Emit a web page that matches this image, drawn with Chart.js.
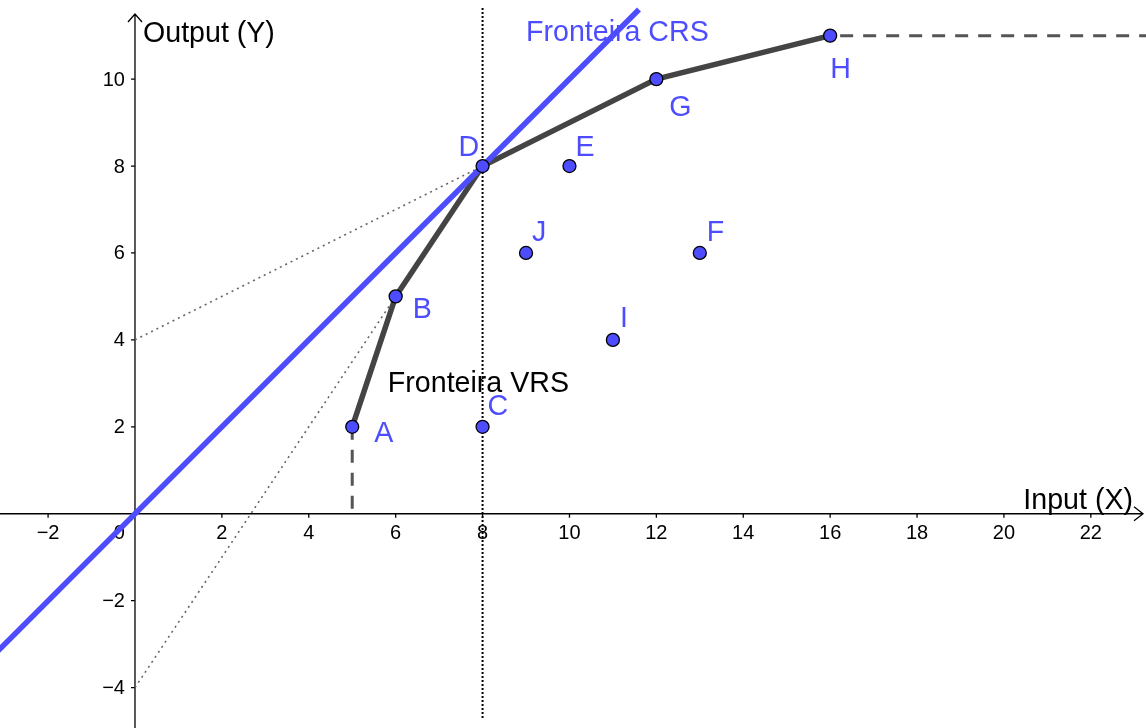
<!DOCTYPE html>
<html><head><meta charset="utf-8">
<script src="https://cdn.jsdelivr.net/npm/chart.js@4.4.1/dist/chart.umd.min.js"></script>
<style>html,body{margin:0;padding:0;background:#fff;overflow:hidden}canvas{display:block}</style>
</head><body>
<canvas id="c" width="1146" height="728"></canvas>
<script>
// ---- data ----
const pointNames = ['A','B','C','D','E','F','G','H','I','J'];
const inputX  = [5, 6, 8, 8, 10, 13, 12, 16, 11, 9];
const outputY = [2, 5, 2, 8, 8, 6, 10, 11, 4, 6];
const vrsNames = ['A','B','D','G','H'];
const crsX = [-3.2, 11.6];
const crsY = [-3.2, 11.6];
const dottedInterceptsY = [4, -4];      // dotted rays from D to the y axis
const xTickValues = [-2,0,2,4,6,8,10,12,14,16,18,20,22];
const yTickValues = [-4,-2,2,4,6,8,10];
const xAxisTitle = 'Input (X)';
const yAxisTitle = 'Output (Y)';
const crsTitle = 'Fronteira CRS';
const vrsTitle = 'Fronteira VRS';

// ---- styling ----
const BLUE = 'rgb(77,77,255)';
const GRAY = 'rgb(68,68,68)';
const FONT = '"Liberation Sans", Arial, sans-serif';
const BIG = '28.6px ';
const labelOffsets = { // px offsets (left, baseline) from point
  A:[22,15], B:[17,22], C:[5,-12], D:[-24,-10], E:[6,-10],
  F:[7,-12], G:[13,37], H:[0,42], I:[7,-13], J:[6,-12]
};

const pt = n => { const i = pointNames.indexOf(n); return {x: inputX[i], y: outputY[i]}; };
const D = pt('D'), A = pt('A'), H = pt('H');

const datasets = [
  { label:'points', data: pointNames.map(pt), showLine:false, order:0,
    pointRadius:6.5, pointHoverRadius:6.5, pointBackgroundColor:BLUE, pointBorderColor:'#000', pointBorderWidth:1.3 },
  { label:'CRS', data: crsX.map((x,i)=>({x, y:crsY[i]})), showLine:true, order:1,
    borderColor:BLUE, borderWidth:5.5, pointRadius:0 },
  { label:'VRS', data: vrsNames.map(pt), showLine:true, order:2,
    borderColor:GRAY, borderWidth:5.5, pointRadius:0 },
  { label:'dashA', data:[A, {x:A.x, y:0}], showLine:true, order:3,
    borderColor:'#555', borderWidth:3, borderDash:[13,10], pointRadius:0 },
  { label:'dashH', data:[H, {x:24, y:H.y}], showLine:true, order:3,
    borderColor:'#555', borderWidth:3, borderDash:[13,10], borderDashOffset:-10, pointRadius:0 },
  ...dottedInterceptsY.map(y0 => ({ label:'dot'+y0, data:[{x:0,y:y0}, D], showLine:true, order:4,
    borderColor:'#666', borderWidth:1.6, borderDash:[2,4], pointRadius:0 })),
  { label:'vline', data:[{x:D.x, y:-4.7},{x:D.x, y:11.65}], showLine:true, order:4,
    borderColor:'#000', borderWidth:2, borderDash:[2,2], pointRadius:0 }
];

const axesPlugin = {
  id:'axes',
  beforeDatasetsDraw(chart){
    const ctx = chart.ctx, xs = chart.scales.x, ys = chart.scales.y;
    const x0 = xs.getPixelForValue(0), y0 = ys.getPixelForValue(0);
    ctx.save();
    ctx.strokeStyle = '#000'; ctx.lineWidth = 1.3;
    ctx.beginPath();
    ctx.moveTo(0, y0); ctx.lineTo(1143, y0);
    ctx.moveTo(1134, y0-7); ctx.lineTo(1143, y0); ctx.lineTo(1134, y0+7);
    ctx.moveTo(x0, 728); ctx.lineTo(x0, 14);
    ctx.moveTo(x0-7, 22); ctx.lineTo(x0, 14); ctx.lineTo(x0+7, 22);
    ctx.stroke();
    ctx.fillStyle = '#000';
    ctx.font = '20px ' + FONT;
    ctx.beginPath();
    xTickValues.forEach(v => {
      const px = xs.getPixelForValue(v);
      if (v !== 0) { ctx.moveTo(px, y0); ctx.lineTo(px, y0+4); }
      const t = v < 0 ? '\u2212' + Math.abs(v) : String(v);
      ctx.textAlign = v === 0 ? 'right' : 'center';
      ctx.textBaseline = 'top';
      ctx.fillText(t, v === 0 ? px - 10 : px, y0 + 10);
    });
    yTickValues.forEach(v => {
      const py = ys.getPixelForValue(v);
      ctx.moveTo(x0-4, py); ctx.lineTo(x0, py);
      const t = v < 0 ? '\u2212' + Math.abs(v) : String(v);
      ctx.textAlign = 'right'; ctx.textBaseline = 'middle';
      ctx.fillText(t, x0 - 10, py + 1);
    });
    ctx.stroke();
    ctx.font = BIG + FONT;
    ctx.textBaseline = 'alphabetic';
    ctx.textAlign = 'left';
    ctx.fillText(yAxisTitle, x0 + 8, 42);
    ctx.textAlign = 'right';
    ctx.fillText(xAxisTitle, 1133, y0 - 5);
    ctx.restore();
  },
  afterDatasetsDraw(chart){
    const ctx = chart.ctx, xs = chart.scales.x, ys = chart.scales.y;
    ctx.save();
    ctx.font = BIG + FONT;
    ctx.textAlign = 'left'; ctx.textBaseline = 'alphabetic';
    ctx.fillStyle = BLUE;
    pointNames.forEach(n => {
      const p = pt(n), o = labelOffsets[n];
      ctx.fillText(n, xs.getPixelForValue(p.x) + o[0], ys.getPixelForValue(p.y) + o[1]);
    });
    ctx.fillText(crsTitle, xs.getPixelForValue(9.0), ys.getPixelForValue(10.87));
    ctx.fillStyle = '#000';
    ctx.fillText(vrsTitle, xs.getPixelForValue(5.82), ys.getPixelForValue(2.81));
    ctx.restore();
  }
};

new Chart(document.getElementById('c'), {
  type:'scatter',
  data:{ datasets },
  options:{
    responsive:false, animation:false, devicePixelRatio:1,
    layout:{ padding:0, autoPadding:false },
    plugins:{ legend:{display:false}, tooltip:{enabled:false} },
    scales:{
      x:{ type:'linear', min:-3.107, max:23.27, display:false },
      y:{ type:'linear', min:-4.93, max:11.82, display:false }
    }
  },
  plugins:[axesPlugin]
});
</script></body></html>
